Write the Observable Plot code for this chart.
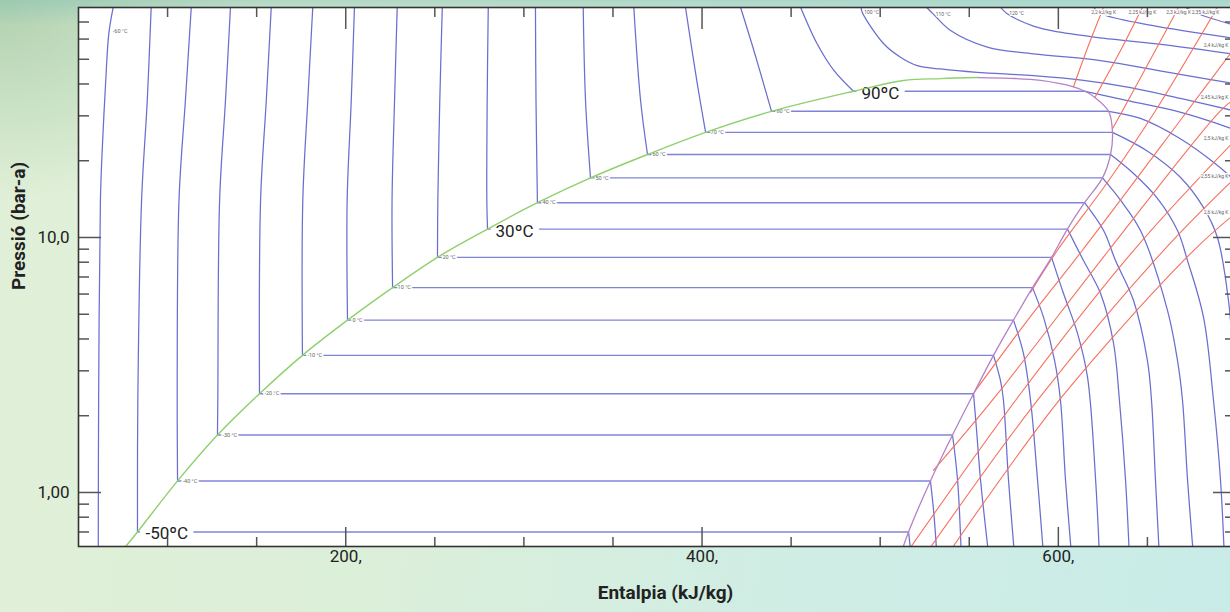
<!DOCTYPE html>
<html><head><meta charset="utf-8">
<script src="https://cdn.jsdelivr.net/npm/d3@7"></script>
<script src="https://cdn.jsdelivr.net/npm/@observablehq/plot@0.6"></script>
<style>
html,body{margin:0;padding:0;width:1230px;height:612px;overflow:hidden;}
body{background:
  linear-gradient(180deg, rgba(140,195,180,0.55) 0px, rgba(140,195,180,0) 24px),
  radial-gradient(ellipse 260px 200px at 0% 0%, rgba(170,205,170,0.9) 0%, rgba(170,205,170,0) 100%),
  linear-gradient(100deg, #e1f0d8 0%, #dcefd9 35%, #d0ede4 65%, #c9ece8 100%);}
#chart{position:absolute;left:0;top:0;}
svg{max-width:none !important;}
</style></head><body><div id="chart"></div>
<script>
// ---- saturation data ----
const satT  = [-50,-40,-30,-20,-10,0,10,20,30,40,50,60,70,80,90];
const satP  = [0.70,1.11,1.68,2.44,3.45,4.74,6.36,8.36,10.79,13.69,17.13,21.16,25.84,31.25,37.45];
const satHl = [83.1,105.6,128.0,151.6,175.7,201.0,226.3,251.5,279.6,307.6,337.4,369.4,402.0,439.0,485.0];
const satHv = [515.9,528.2,540.6,552.4,563.6,574.8,585.5,596.2,605.1,614.7,624.8,629.3,630.4,628.2,615.0];
const liqLineLow  = [[75.3,0.6]];
const liqLineHigh = [[513.1,41.3],[534.0,42.0],[555.2,42.4]];
const vapLineHigh = [[555.2,42.4],[573.0,42.1],[590.0,41.3],[608.5,39.0]];
const vapLineMid  = [[620.5,35.4]];
const vapLineLow  = [[512.5,0.6]];
const bigLabelTemps = [-50,30,90];

// ---- liquid-region isotherms [h, P] ----
const liq_m60 = [[61.1,0.6],[61.3,2.3],[62.3,13.97],[63.3,21.9],[65.2,40.1],[67.0,62.9],[69.5,80]];
const liq_m50 = [[83.1,0.70],[83.3,2.295],[85.4,13.97],[88.6,34.45],[90.8,80]];
const liq_m40 = [[105.6,1.11],[105.4,2.295],[106.4,13.97],[110.0,34.45],[113.3,80]];
const liq_m30 = [[128.0,1.68],[128.2,2.295],[129.2,13.97],[132.5,34.45],[135.3,80]];
const liq_m20 = [[151.6,2.44],[152.2,13.97],[155.4,34.45],[158.2,80]];
const liq_m10 = [[175.7,3.45],[175.9,13.97],[178.7,34.45],[181.5,80]];
const liq_0   = [[201.0,4.74],[200.8,13.97],[203.1,34.45],[204.9,80]];
const liq_10  = [[226.3,6.36],[226.0,13.97],[227.4,34.45],[228.9,80]];
const liq_20  = [[251.5,8.36],[251.7,13.97],[252.8,34.45],[254.2,80]];
const liq_30  = [[279.6,10.79],[279.2,13.97],[279.4,34.45],[280.0,80]];
const liq_40  = [[307.6,13.69],[306.8,34.45],[306.5,80]];
const liq_50  = [[337.4,17.13],[334.6,34.45],[333.3,80]];
const liq_60  = [[369.4,21.16],[365.5,34.45],[361.7,80]];
const liq_70  = [[402.0,25.84],[397.3,40.2],[390.7,80]];
const liq_80  = [[439.0,31.25],[429.1,54.1],[421.6,80]];
const liq_90  = [[485.0,37.45],[474.0,45.2],[464.6,57.5],[455.3,80]];

// ---- vapour-region isotherms [h, P] ----
const vap_m50 = [[515.9,0.70],[517.0,0.6]];
const vap_m40 = [[528.2,1.11],[530.1,0.83],[531.6,0.6]];
const vap_m30 = [[540.6,1.68],[543.4,1.125],[545.4,0.6]];
const vap_m20 = [[552.4,2.44],[554.1,1.75],[556.3,1.125],[560.5,0.6]];
const vap_m10 = [[563.6,3.45],[567.5,2.75],[569.2,2.295],[572.0,1.125],[575.1,0.6]];
const vap_0   = [[574.8,4.74],[580.4,3.51],[584.4,2.295],[588.3,1.125],[591.4,0.6]];
const vap_10  = [[585.5,6.36],[591.7,4.86],[597.9,3.29],[601.2,2.295],[604.0,1.125],[607.1,0.6]];
const vap_20  = [[596.2,8.36],[602.9,6.03],[610.8,4.2],[616.4,2.83],[620.9,1.125],[622.9,0.6]];
const vap_30  = [[605.1,10.79],[614.1,8.12],[623.7,6.03],[631.0,3.84],[634.3,2.295],[637.7,1.125],[639.7,0.6]];
const vap_40  = [[614.7,13.69],[625.4,10.65],[632.1,8.12],[642.2,5.66],[650.0,3.29],[652.3,2.295],[654.5,1.125],[656.5,0.6]];
const vap_50  = [[624.8,17.13],[634.9,14.0],[646.1,10.65],[661.3,5.17],[666.9,3.29],[669.7,2.295],[672.5,1.125],[675.5,0.6]];
const vap_60  = [[629.3,21.16],[641.6,17.98],[655.7,14.22],[666.9,10.65],[672.5,8.12],[681.5,4.86],[687.1,2.295],[691.0,1.125],[693.0,0.6]];
const vap_70  = [[630.4,25.84],[650.1,21.8],[668.6,17.2],[681.5,13.1],[689.3,10.0],[695.5,5.66],[699.0,2.75],[702.0,1.4]];
const vap_80  = [[628.2,31.25],[646.1,29.3],[668.0,24.5],[688.0,19.5],[702.0,16.0]];
const vap_90  = [[615.0,37.45],[638.8,34.45],[664.6,31.5],[683.7,28.8],[702.0,26.0]];

// ---- supercritical isotherms [h, P] ----
const sup_100 = [[489.3,80],[489.9,76.5],[502.0,57.5],[511.4,50.9],[520.8,47.2],[533.9,45.8],[554.4,44.4],[586.1,43.1],[614.1,41.3],[640.5,38.7],[668.6,35.1],[702.0,31.0]];
const sup_110 = [[526.0,80],[530.0,75.0],[539.5,64.8],[560.1,55.8],[586.1,52.5],[623.7,49.4],[661.1,44.5],[702.0,39.8]];
const sup_120 = [[567.5,80],[571.3,75.4],[586.0,67.5],[600.0,64.0],[625.0,60.5],[660.0,57.0],[702.0,52.0]];
const sup_130 = [[619.7,80],[623.7,75.6],[651.7,68.0],[702.0,60.0]];
const sup_140 = [[671.4,80],[678.1,75.6],[702.0,67.0]];
const supLabels = ["100 °C","110 °C","120 °C","130"];

// ---- isentropes [h, P] ----
const s_220 = [[608.5,39.0],[616.9,56.6],[625.4,80]];
const s_225 = [[620.5,35.4],[634.9,54.1],[647.2,80]];
const s_230 = [[630.4,26.7],[636.0,31.4],[652.9,51.7],[667.5,80]];
const s_235 = [[584.4,6.09],[599.4,8.89],[628.2,16.7],[654.5,31.4],[689.3,80]];
const s_240 = [[552.4,2.45],[582.7,4.73],[613.4,8.89],[672.5,31.4],[700,56.6]];
const s_245 = [[529.9,1.22],[564.7,2.38],[628.2,8.89],[691.0,31.4],[700,35.4]];
const s_250 = [[516.4,0.6],[577.6,2.38],[642.2,8.89],[700,24.4]];
const s_255 = [[527.5,0.6],[590.0,2.38],[659.0,8.89],[700,17.35]];
const s_260 = [[540.0,0.6],[602.2,2.38],[675.9,8.89],[700,12.54]];
const sTopLabels   = ["2,2 kJ/kg K","2,25 kJ/kg K","2,3 kJ/kg K"];
const sTopLastLabel = ["2,35 kJ/kg K"];
const sRightLabels = ["2,4 kJ/kg K","2,45 kJ/kg K","2,5 kJ/kg K","2,55 kJ/kg K","2,6 kJ/kg K"];

// ---- axes ----
const xMajor = [200,400,600];
const xMinor = [100,150,250,300,350,450,500,550,650];
const xTickLabels = ["200,","400,","600,"];
const yMajor = [1,10];
const yMinor = [0.7,0.8,0.9,2,3,4,5,6,7,8,9,20,30,40,50,60,70];
const yTickLabels = ["1,00","10,0"];

// ---- build ----
const BLUE = "#6a6fcf", RED = "#f7705e", GREEN = "#8fd06d", PURPLE = "#b482c8", TICK = "#555";
const PW = 1158, PH = 539;
const hx = d => d[0], py = d => d[1];
const curveLine = (arr, stroke, w = 1.25) => Plot.line(arr, {x: hx, y: py, curve: "catmull-rom", stroke, strokeWidth: w, clip: true});

const liquids = [liq_m60,liq_m50,liq_m40,liq_m30,liq_m20,liq_m10,liq_0,liq_10,liq_20,liq_30,liq_40,liq_50,liq_60,liq_70,liq_80,liq_90];
const vapours = [vap_m50,vap_m40,vap_m30,vap_m20,vap_m10,vap_0,vap_10,vap_20,vap_30,vap_40,vap_50,vap_60,vap_70,vap_80,vap_90];
const supers  = [sup_100,sup_110,sup_120,sup_130,sup_140];
const sTop    = [s_220,s_225,s_230,s_235];
const sRight  = [s_240,s_245,s_250,s_255,s_260];

const liquidDome = [...liqLineLow, ...satT.map((t,i)=>[satHl[i],satP[i]]), ...liqLineHigh];
const vapIdx = satT.map((t,i)=>i).reverse();
const vapourDome = [...vapLineHigh, [satHv[14],satP[14]], ...vapLineMid, ...vapIdx.slice(1).map(i=>[satHv[i],satP[i]]), ...vapLineLow];

const idx = satT.map((t,i)=>i);
const bigIdx = idx.filter(i => bigLabelTemps.includes(satT[i]));
const smallIdx = idx.filter(i => !bigLabelTemps.includes(satT[i]));
const tinyText = {fontSize: 5, fill: "#666", stroke: "white", strokeWidth: 2, paintOrder: "stroke"};

const chart = Plot.plot({
  width: 1236, height: 612,
  marginLeft: 78, marginRight: 0, marginTop: 7, marginBottom: 66,
  style: {background: "transparent", fontFamily: "Roboto, sans-serif", overflow: "visible"},
  x: {domain: [50, 700]},
  y: {type: "log", domain: [0.614, 79.8]},
  marks: [
    Plot.frame({fill: "white"}),
    // two-phase horizontals
    Plot.link(idx, {x1: i => satHl[i], y1: i => satP[i], x2: i => satHv[i], y2: i => satP[i], stroke: BLUE, strokeWidth: 1.4, strokeOpacity: 0.85}),
    ...liquids.map(a => curveLine(a, BLUE)),
    ...vapours.map(a => curveLine(a, BLUE)),
    ...supers.map(a => curveLine(a, BLUE)),
    ...sTop.map(a => curveLine(a, RED, 1.1)),
    ...sRight.map(a => curveLine(a, RED, 1.1)),
    // small isotherm labels
    Plot.text(smallIdx, {x: i => satHl[i], y: i => satP[i], text: i => `${satT[i]} °C`, textAnchor: "start", dx: 5, ...tinyText, fontSize: 5.5, strokeWidth: 3}),
    Plot.text([liq_m60[5]], {x: hx, y: py, text: ["-60 °C"], textAnchor: "start", dx: 4, dy: -3, fontSize: 5.5, fill: "#666"}),
    Plot.text(supers.slice(0,4).map(a => a[1]), {x: hx, y: py, text: supLabels, textAnchor: "start", dx: 2, ...tinyText}),
    Plot.text(sTop.slice(0,3).map(a => a[a.length-1]), {x: hx, y: py, text: sTopLabels, textAnchor: "middle", dy: 5, ...tinyText}),
    Plot.text(sTop.slice(3).map(a => a[a.length-1]), {x: hx, y: py, text: sTopLastLabel, textAnchor: "end", dx: 2, dy: 5, ...tinyText}),
    Plot.text(sRight.map(a => a[a.length-1]), {x: hx, y: py, text: sRightLabels, textAnchor: "end", dx: -8, dy: 0, ...tinyText}),
    // big labels
    Plot.text(bigIdx, {x: i => satHl[i], y: i => satP[i], text: i => `${satT[i]}ºC`, textAnchor: "start", dx: 8, dy: 2, fontSize: 17, fill: "#222", stroke: "white", strokeWidth: 12, paintOrder: "stroke"}),
    // saturation dome
    Plot.line(liquidDome, {x: hx, y: py, curve: "catmull-rom", stroke: GREEN, strokeWidth: 1.4, clip: true}),
    Plot.line(vapourDome, {x: hx, y: py, curve: "catmull-rom", stroke: PURPLE, strokeWidth: 1.3, clip: true}),
    // inward ticks
    Plot.tickX(xMinor, {x: d => d, insetTop: PH - 9, stroke: TICK, strokeWidth: 1.5}),
    Plot.tickX(xMajor, {x: d => d, insetTop: PH - 19, stroke: TICK, strokeWidth: 1.5}),
    Plot.tickX(xMinor, {x: d => d, insetBottom: PH - 10, stroke: TICK, strokeWidth: 1.5}),
    Plot.tickX(xMajor, {x: d => d, insetBottom: PH - 22, stroke: TICK, strokeWidth: 1.5}),
    Plot.tickY(yMinor, {y: d => d, insetRight: PW - 11, stroke: TICK, strokeWidth: 1.5}),
    Plot.tickY(yMajor, {y: d => d, insetRight: PW - 23, stroke: TICK, strokeWidth: 1.5}),
    Plot.tickY(yMinor, {y: d => d, insetLeft: PW - 11, stroke: TICK, strokeWidth: 1.5}),
    Plot.tickY(yMajor, {y: d => d, insetLeft: PW - 23, stroke: TICK, strokeWidth: 1.5}),
    Plot.axisX({ticks: xMajor, tickSize: 0, tickPadding: 3, tickFormat: d => xTickLabels[xMajor.indexOf(d)], fontSize: 17, fill: "#222", label: null}),
    Plot.axisY({ticks: yMajor, tickSize: 0, tickPadding: 9, tickFormat: d => yTickLabels[yMajor.indexOf(d)], fontSize: 17, fill: "#222", label: null}),
    Plot.text(["Entalpia (kJ/kg)"], {frameAnchor: "bottom", dx: 8, dy: 52, fontSize: 19, fontWeight: "bold", fill: "#222"}),
    Plot.text(["Pressió (bar-a)"], {frameAnchor: "left", dx: -60, dy: 13, rotate: -90, fontSize: 19, fontWeight: "bold", fill: "#222"}),
    Plot.frame({stroke: "#333", strokeWidth: 1.6})
  ]
});
document.getElementById("chart").appendChild(chart);
</script></body></html>
